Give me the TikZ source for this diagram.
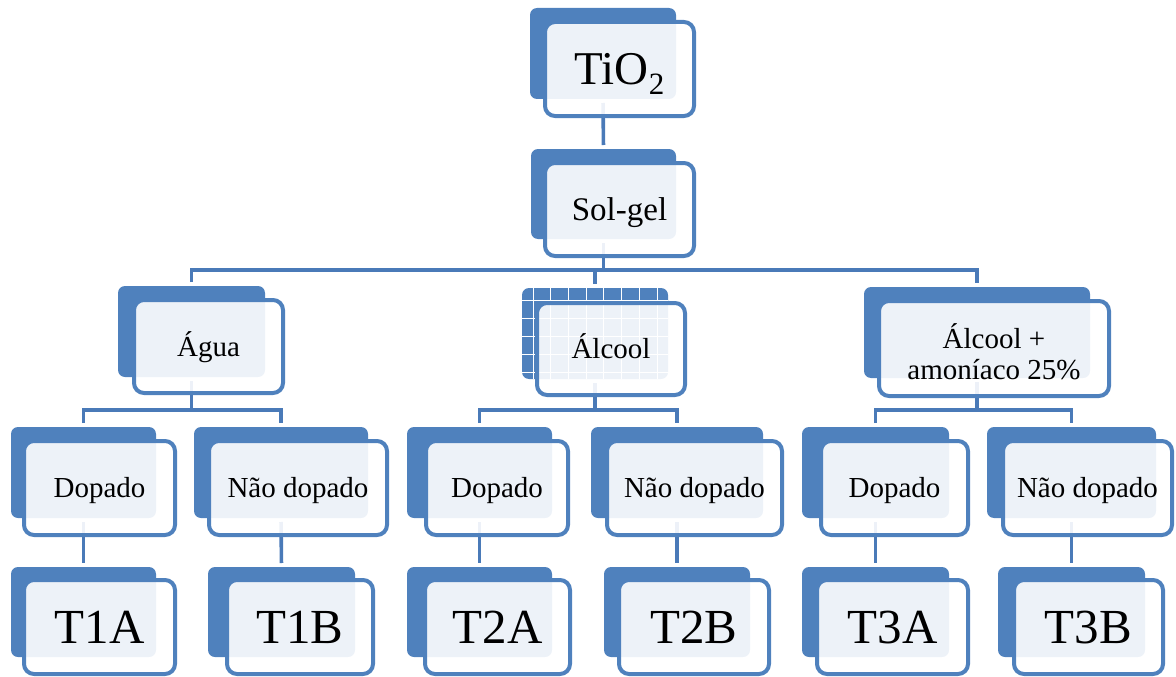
\documentclass[tikz,border=0pt]{standalone}
\usepackage{fontspec}
\setmainfont{Liberation Serif}
\usetikzlibrary{calc}
\definecolor{accent}{HTML}{4F81BD}
\definecolor{linkblue}{HTML}{4A7AB8}
\pgfdeclarelayer{bg}
\pgfsetlayers{bg,main}

\tikzset{
  backbox/.style={fill=accent, rounded corners=7pt, inner sep=0pt, outer sep=0pt, anchor=north west},
  frontbox/.style={draw=accent, line width=4pt, fill=white, fill opacity=0.9,
    rounded corners=10pt, inner sep=0pt, outer sep=0pt, anchor=north west},
  smalltxt/.style={font=\fontsize{29}{31}\selectfont, text height=19.2pt, text depth=0pt, inner sep=0pt},
  midtxt/.style={font=\fontsize{33}{36}\selectfont, text height=21.8pt, text depth=0pt, inner sep=0pt},
  bigtxt/.style={font=\fontsize{49}{52}\selectfont, text height=32.4pt, text depth=0pt, inner sep=0pt},
  toptxt/.style={font=\fontsize{47}{50}\selectfont, text height=31.1pt, text depth=0pt, inner sep=0pt},
  conn/.style={draw=linkblue, line width=3.6pt},
  from box/.style={shorten <=4pt},
  to box/.style={shorten >=4pt},
}

% solid back card: name, x0, y0, x1, y1 (outer edges)
\newcommand\backrect[5]{%
  \pgfmathsetmacro\rsw{#4-#2}\pgfmathsetmacro\rsh{#5-#3}%
  \node[backbox, minimum width=\rsw pt, minimum height=\rsh pt] (#1) at (#2,#3) {};}
% outlined front card: name, x0, y0, x1, y1 (outer edges of the border)
\newcommand\frontrect[5]{%
  \pgfmathsetmacro\rsw{#4-#2-4}\pgfmathsetmacro\rsh{#5-#3-4}%
  \node[frontbox, minimum width=\rsw pt, minimum height=\rsh pt] (#1) at ({#2+2},{#3+2}) {};}

\begin{document}
\begin{tikzpicture}[x=1pt,y=-1pt]
\useasboundingbox (0,0) rectangle (1176,677);

% level 0
\backrect{tio-b}{530}{8}{676}{99}
\frontrect{tio}{543}{20}{696}{118}
\node[toptxt] (tio-t) at (tio.center) {TiO\raisebox{-10pt}{\fontsize{31}{31}\selectfont 2}};

% level 1
\backrect{sol-b}{531}{149}{676}{239}
\frontrect{sol}{543}{161}{696}{258}
\node[midtxt] (sol-t) at (sol.center) {Sol-gel};

% level 2
\backrect{agua-b}{118}{286}{265}{377}
\frontrect{agua}{132}{298}{285}{395}
\node[smalltxt] (agua-t) at (agua.center) {Água};

\backrect{alc-b}{522}{288}{668}{379}
\begin{scope}
  \clip[rounded corners=7pt] (522,288) rectangle (668,379);
  \foreach \gx in {533,550.7,...,668} \draw[white, line width=0.8pt] (\gx,288) -- (\gx,379);
  \foreach \gy in {300,318.2,...,379} \draw[white, line width=0.8pt] (522,\gy) -- (668,\gy);
\end{scope}
\frontrect{alc}{535}{301}{687}{397}
\node[smalltxt] (alc-t) at (alc.center) {Álcool};

\backrect{amon-b}{864}{287}{1090}{378}
\frontrect{amon}{877}{299}{1111}{398}
\node[font=\fontsize{29}{31}\selectfont, align=center, inner sep=0pt, yshift=-3pt] (amon-t) at (amon.center) {Álcool +\\amoníaco 25\%};

% level 3
\backrect{d1-b}{11}{427}{156}{518}
\frontrect{d1}{22}{439}{177}{537}
\node[smalltxt] (d1-t) at (d1.center) {Dopado};
\backrect{n1-b}{194}{427}{368}{518}
\frontrect{n1}{207}{439}{389}{537}
\node[smalltxt] (n1-t) at (n1.center) {Não dopado};
\backrect{d2-b}{407}{427}{552}{518}
\frontrect{d2}{424}{439}{570}{537}
\node[smalltxt] (d2-t) at (d2.center) {Dopado};
\backrect{n2-b}{591}{427}{763}{518}
\frontrect{n2}{605}{439}{784}{537}
\node[smalltxt] (n2-t) at (n2.center) {Não dopado};
\backrect{d3-b}{802}{427}{949}{518}
\frontrect{d3}{819}{439}{970}{537}
\node[smalltxt] (d3-t) at (d3.center) {Dopado};
\backrect{n3-b}{987}{427}{1156}{518}
\frontrect{n3}{1001}{439}{1174}{537}
\node[smalltxt] (n3-t) at (n3.center) {Não dopado};

% level 4
\backrect{t1a-b}{11}{567}{156}{657}
\frontrect{t1a}{22}{578}{177}{676}
\node[bigtxt] (t1a-t) at (t1a.center) {T1A};
\backrect{t1b-b}{208}{567}{355}{657}
\frontrect{t1b}{225}{578}{375}{676}
\node[bigtxt] (t1b-t) at (t1b.center) {T1B};
\backrect{t2a-b}{407}{567}{552}{657}
\frontrect{t2a}{423}{578}{572}{676}
\node[bigtxt] (t2a-t) at (t2a.center) {T2A};
\backrect{t2b-b}{604}{567}{750}{657}
\frontrect{t2b}{617}{578}{771}{676}
\node[bigtxt] (t2b-t) at (t2b.center) {T2B};
\backrect{t3a-b}{802}{567}{949}{657}
\frontrect{t3a}{815}{578}{970}{676}
\node[bigtxt] (t3a-t) at (t3a.center) {T3A};
\backrect{t3b-b}{998}{567}{1145}{657}
\frontrect{t3b}{1012}{578}{1165}{676}
\node[bigtxt] (t3b-t) at (t3b.center) {T3B};

% connectors, kept behind the cards
\coordinate (bar2) at (0,270);
\coordinate (bar3) at (0,410);
\begin{pgfonlayer}{bg}
  \draw[conn, from box, to box] (tio-b.south) -- (sol-b.north);

  \draw[conn, from box] (sol-b.south) -- (sol-b.south |- bar2);
  \draw[conn, from box, to box] (agua-b.north) |- (amon-b.north |- bar2) -- (amon-b.north);
  \draw[conn, to box] (alc-b.north |- bar2) -- (alc-b.north);

  \draw[conn, from box] (agua-b.south) -- (agua-b.south |- bar3);
  \draw[conn, from box, to box] (d1-b.north) |- (n1-b.north |- bar3) -- (n1-b.north);
  \draw[conn, from box] (alc-b.south) -- (alc-b.south |- bar3);
  \draw[conn, from box, to box] (d2-b.north) |- (n2-b.north |- bar3) -- (n2-b.north);
  \draw[conn, from box] (amon-b.south) -- (amon-b.south |- bar3);
  \draw[conn, from box, to box] (d3-b.north) |- (n3-b.north |- bar3) -- (n3-b.north);

  \draw[conn, from box, to box] (d1-b.south) -- (t1a-b.north);
  \draw[conn, from box, to box] (n1-b.south) -- (t1b-b.north);
  \draw[conn, from box, to box] (d2-b.south) -- (t2a-b.north);
  \draw[conn, from box, to box] (n2-b.south) -- (t2b-b.north);
  \draw[conn, from box, to box] (d3-b.south) -- (t3a-b.north);
  \draw[conn, from box, to box] (n3-b.south) -- (t3b-b.north);
\end{pgfonlayer}
\end{tikzpicture}
\end{document}
